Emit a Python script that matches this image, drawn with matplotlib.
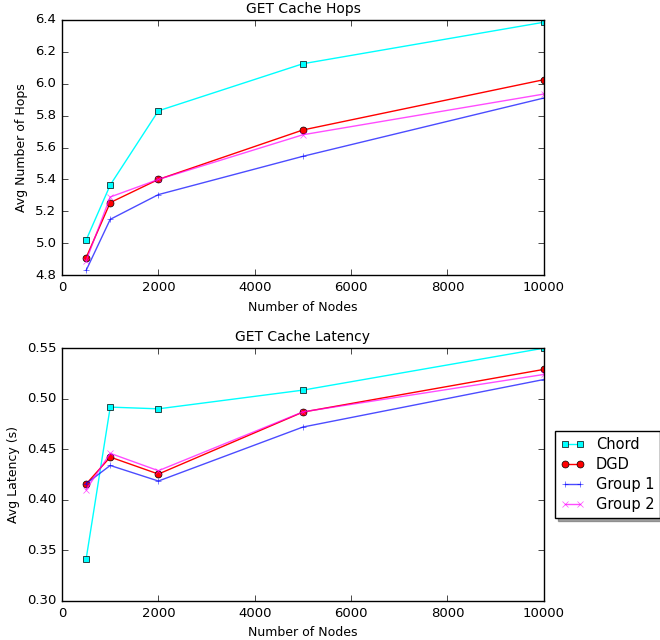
import matplotlib
matplotlib.use("Agg")
import matplotlib.pyplot as plt

plt.style.use("classic")

# Network sizes tested
nodes = [500, 1000, 2000, 5000, 10000]

# Average hop counts per protocol
hops_chord = [5.02, 5.365, 5.83, 6.125, 6.385]
hops_dgd = [4.91, 5.255, 5.40, 5.71, 6.025]
hops_group1 = [4.83, 5.15, 5.305, 5.545, 5.91]
hops_group2 = [4.89, 5.29, 5.40, 5.68, 5.935]

# Average latency (seconds) per protocol
lat_chord = [0.3415, 0.4917, 0.490, 0.5085, 0.550]
lat_dgd = [0.4156, 0.4423, 0.4255, 0.4868, 0.529]
lat_group1 = [0.416, 0.434, 0.4186, 0.472, 0.519]
lat_group2 = [0.410, 0.446, 0.4288, 0.487, 0.524]

labels = ["Chord", "DGD", "Group 1", "Group 2"]


def draw_series(ax, chord, dgd, g1, g2):
    ax.plot(nodes, chord, color="cyan", marker="s", markersize=4.5, label=labels[0])
    ax.plot(nodes, dgd, color="red", marker="o", markersize=5, label=labels[1])
    ax.plot(nodes, g1, color="blue", marker="+", markersize=5, alpha=0.7, label=labels[2])
    ax.plot(nodes, g2, color="magenta", marker="x", markersize=5, alpha=0.7, label=labels[3])


fig = plt.figure(figsize=(6.6, 6.4), dpi=100)
fig.patch.set_facecolor("white")

ax1 = fig.add_axes([0.094, 0.570, 0.730, 0.399])
draw_series(ax1, hops_chord, hops_dgd, hops_group1, hops_group2)
ax1.set_xlim(0, 10000)
ax1.set_ylim(4.8, 6.4)
ax1.set_title("GET Cache Hops", fontsize=10)
ax1.set_xlabel("Number of Nodes", fontsize=9)
ax1.set_ylabel("Avg Number of Hops", fontsize=9)
ax1.tick_params(labelsize=9.5)

ax2 = fig.add_axes([0.094, 0.061, 0.730, 0.395])
draw_series(ax2, lat_chord, lat_dgd, lat_group1, lat_group2)
ax2.set_xlim(0, 10000)
ax2.set_ylim(0.30, 0.55)
ax2.set_title("GET Cache Latency", fontsize=10)
ax2.set_xlabel("Number of Nodes", fontsize=9)
ax2.set_ylabel("Avg Latency (s)", fontsize=9)
ax2.tick_params(labelsize=9.5)
ax2.legend(loc="center left", bbox_to_anchor=(1.008, 0.5), fontsize=10.5,
           shadow=True, numpoints=2, handlelength=1.6, labelspacing=0.35)

fig.savefig("out.png", dpi=100, facecolor="white")
